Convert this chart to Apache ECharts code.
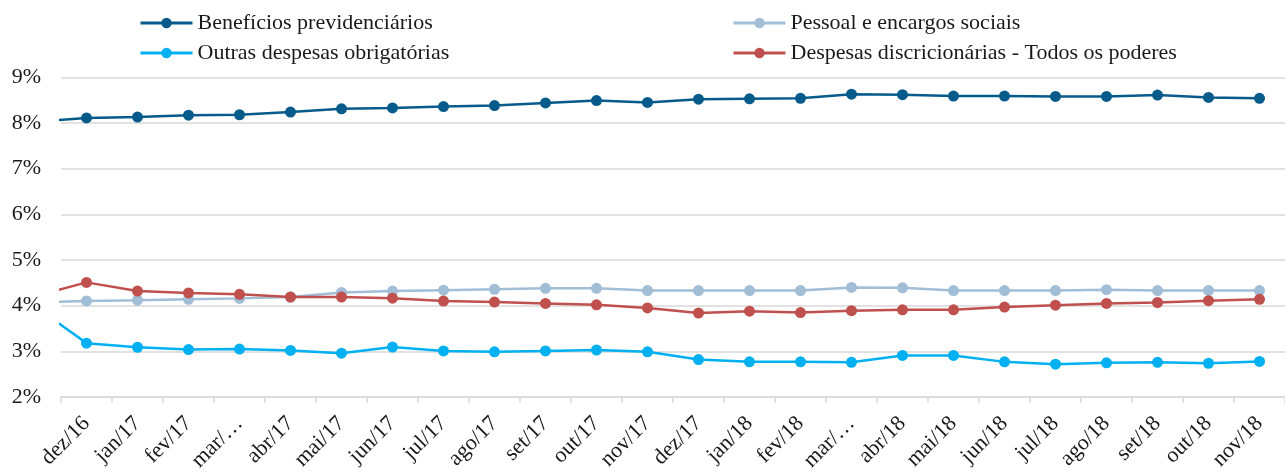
<!DOCTYPE html>
<html>
<head>
<meta charset="utf-8">
<script src="https://cdn.jsdelivr.net/npm/echarts@6/dist/echarts.min.js"></script>
<style>
html,body{margin:0;padding:0;background:#fff;}
#chart{width:1285px;height:474px;}
</style>
</head>
<body>
<div id="chart"></div>
<script>
// Categories (month index 0 = dez/16); a leading point (nov/16) sits just left of the plot and is clipped
const categories = ['dez/16','jan/17','fev/17','mar/17','abr/17','mai/17','jun/17','jul/17','ago/17','set/17','out/17','nov/17',
  'dez/17','jan/18','fev/18','mar/18','abr/18','mai/18','jun/18','jul/18','ago/18','set/18','out/18','nov/18'];
const tickLabels = ['dez/16','jan/17','fev/17','mar/…','abr/17','mai/17','jun/17','jul/17','ago/17','set/17','out/17','nov/17',
  'dez/17','jan/18','fev/18','mar/…','abr/18','mai/18','jun/18','jul/18','ago/18','set/18','out/18','nov/18'];
const leadCategory = 'nov/16';

const beneficios = [8.03, 8.11, 8.13, 8.17, 8.18, 8.24, 8.31, 8.33, 8.36, 8.38, 8.44, 8.49, 8.45,
  8.52, 8.53, 8.54, 8.63, 8.62, 8.59, 8.59, 8.58, 8.58, 8.61, 8.56, 8.54];
const pessoal = [4.07, 4.105, 4.12, 4.14, 4.16, 4.19, 4.29, 4.32, 4.34, 4.36, 4.38, 4.38, 4.33,
  4.33, 4.33, 4.33, 4.40, 4.39, 4.33, 4.33, 4.33, 4.35, 4.33, 4.33, 4.33];
const outras = [3.98, 3.18, 3.09, 3.04, 3.05, 3.02, 2.96, 3.095, 3.01, 2.99, 3.01, 3.03, 2.99,
  2.82, 2.77, 2.77, 2.76, 2.91, 2.91, 2.77, 2.72, 2.75, 2.76, 2.74, 2.78];
const discricionarias = [4.21, 4.51, 4.32, 4.28, 4.25, 4.19, 4.19, 4.165, 4.10, 4.08, 4.05, 4.02, 3.95,
  3.84, 3.88, 3.85, 3.89, 3.91, 3.91, 3.97, 4.01, 4.05, 4.07, 4.11, 4.14];

const yTicks = [2, 3, 4, 5, 6, 7, 8, 9];

const names = ['Benefícios previdenciários', 'Pessoal e encargos sociais', 'Outras despesas obrigatórias', 'Despesas discricionárias - Todos os poderes'];
const colors = ['#065b8b', '#a2bdd6', '#00b0f0', '#c0504d'];
const seriesValues = [beneficios, pessoal, outras, discricionarias];

const FONT = 'Liberation Serif';
const TXT = '#1a1a1a';

function toPairs(arr) { return arr.map((v, i) => [i - 1, v]); }

const chart = echarts.init(document.getElementById('chart'), null, {renderer: 'canvas'});

function legendAt(name, left, top) {
  return {
    data: [name], left: left, top: top, orient: 'horizontal',
    itemWidth: 52, itemHeight: 13, padding: 0,
    lineStyle: {width: 3},
    textStyle: {fontFamily: FONT, fontSize: 22, color: TXT},
    selectedMode: false
  };
}

chart.setOption({
  animation: false,
  backgroundColor: '#fff',
  grid: {left: 61, right: -11.5, top: 77.3, bottom: 76.5, containLabel: false},
  legend: [
    legendAt(names[0], 139, 12),
    legendAt(names[1], 732, 12),
    legendAt(names[2], 139, 42),
    legendAt(names[3], 732, 42)
  ],
  xAxis: [{
    type: 'category',
    data: categories,
    boundaryGap: true,
    axisLine: {show: true, lineStyle: {color: '#d9d9d9', width: 1.5}},
    axisTick: {show: true, length: 6, lineStyle: {color: '#d9d9d9', width: 1.5}},
    axisLabel: {
      interval: 0, rotate: 45, margin: 23,
      fontFamily: FONT, fontSize: 22, color: TXT,
      formatter: (v, i) => tickLabels[i]
    },
    splitLine: {show: false}
  }, {
    type: 'value',
    min: -0.5, max: categories.length - 0.5,
    show: false,
    splitLine: {show: false}
  }],
  yAxis: {
    type: 'value',
    min: yTicks[0], max: yTicks[yTicks.length - 1], interval: 1,
    axisLine: {show: false},
    axisTick: {show: false},
    axisLabel: {fontFamily: FONT, fontSize: 22, color: TXT, margin: 20, formatter: '{value}%'},
    splitLine: {lineStyle: {color: '#d9d9d9', width: 1.5}}
  },
  series: seriesValues.map((vals, k) => ({
    name: names[k],
    type: 'line',
    xAxisIndex: 1,
    data: toPairs(vals),
    clip: true,
    symbol: 'circle',
    symbolSize: 11,
    showSymbol: true,
    lineStyle: {color: colors[k], width: 2.5},
    itemStyle: {color: colors[k]},
    emphasis: {disabled: true},
    z: 2 + (k === 3 ? 1 : 0)
  }))
});
</script>
</body>
</html>
